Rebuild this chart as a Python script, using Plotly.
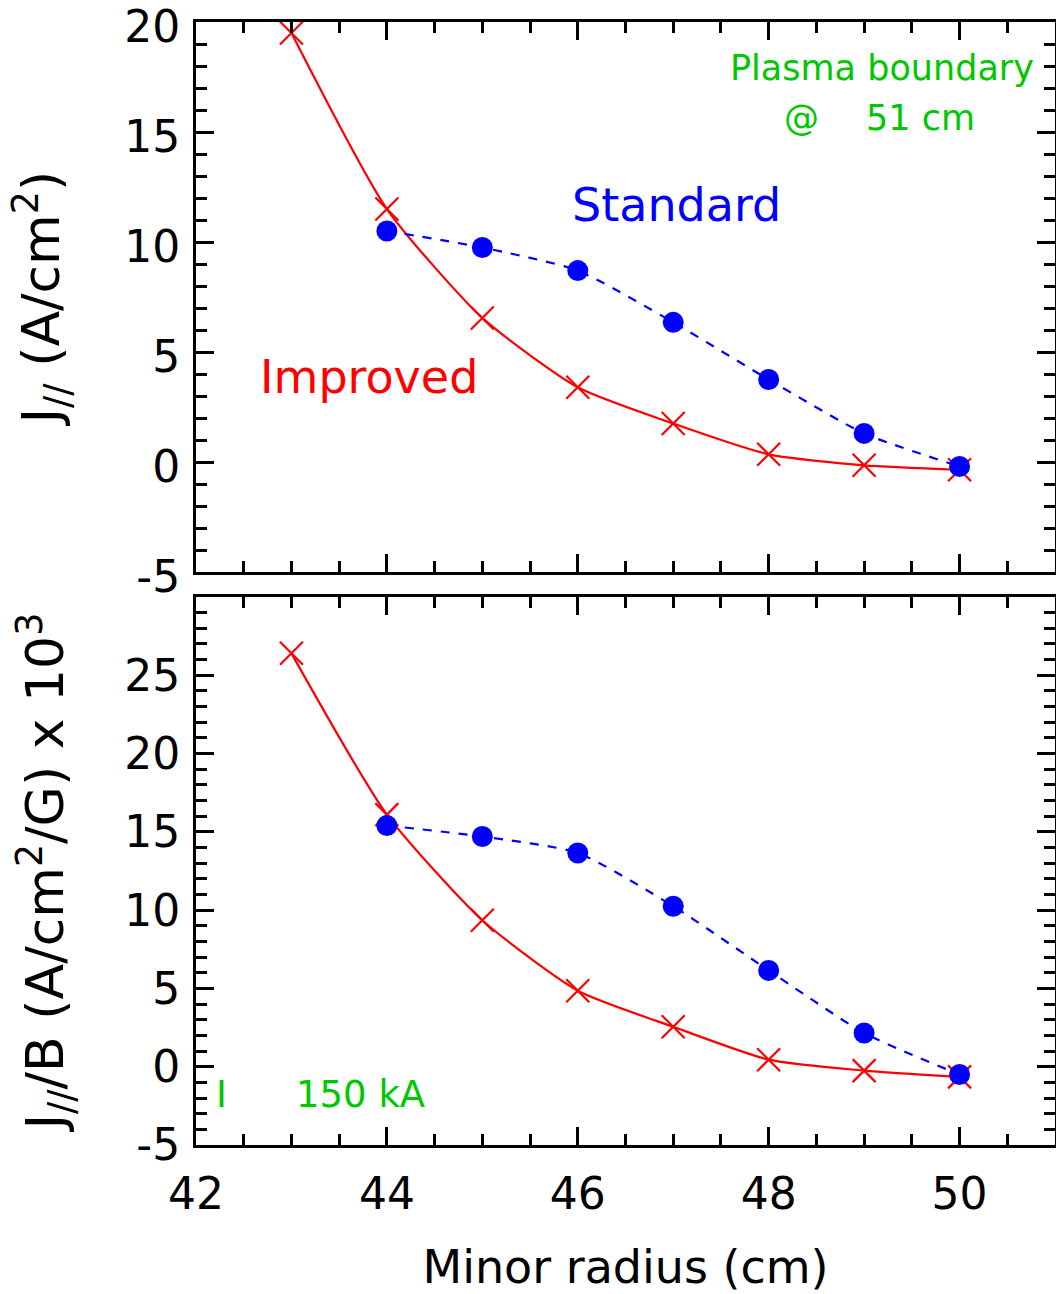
import plotly.graph_objects as go

radius_improved = [43, 44, 45, 46, 47, 48, 49, 50]
radius_standard = [44, 45, 46, 47, 48, 49, 50]

j_improved = [19.5, 11.5, 6.55, 3.4, 1.75, 0.35, -0.15, -0.35]
j_standard = [10.5, 9.75, 8.7, 6.35, 3.75, 1.3, -0.2]

jb_improved = [26.4, 16.1, 9.35, 4.85, 2.55, 0.45, -0.25, -0.65]
jb_standard = [15.4, 14.7, 13.65, 10.25, 6.15, 2.15, -0.5]

x_ticks = [42, 44, 46, 48, 50]
y1_ticks = [-5, 0, 5, 10, 15, 20]
y2_ticks = [-5, 0, 5, 10, 15, 20, 25]

RED = "#ff0000"
BLUE = "#0000ff"
GREEN = "#00c800"
FONT = "DejaVu Sans"

fig = go.Figure()

def add_pair(xa, ya, imp, std):
    fig.add_trace(go.Scatter(
        x=radius_improved, y=imp, mode="lines+markers", xaxis=xa, yaxis=ya,
        line=dict(color=RED, width=2.2, shape="spline", smoothing=0.6),
        marker=dict(symbol="x-thin", size=23, line=dict(color=RED, width=2.2)),
        showlegend=False, cliponaxis=False))
    fig.add_trace(go.Scatter(
        x=radius_standard, y=std, mode="lines+markers", xaxis=xa, yaxis=ya,
        line=dict(color=BLUE, width=2.2, dash="dash", shape="spline", smoothing=0.6),
        marker=dict(symbol="circle", size=21, color=BLUE),
        showlegend=False, cliponaxis=False))

add_pair("x", "y", j_improved, j_standard)
add_pair("x2", "y2", jb_improved, jb_standard)

axis_common = dict(
    showline=True, linecolor="black", linewidth=3, mirror="ticks",
    ticks="inside", ticklen=18, tickwidth=3, tickcolor="black",
    showgrid=False, zeroline=False, ticklabeloverflow="allow", automargin=False,
    tickfont=dict(family=FONT, size=44, color="black"),
    minor=dict(ticks="inside", ticklen=11, tickwidth=3, tickcolor="black", showgrid=False),
)

def fmt(v):
    return str(v).replace("−", "-")

fig.update_layout(
    width=1056, height=1294,
    margin=dict(l=196, r=1, t=22, b=149),
    paper_bgcolor="white", plot_bgcolor="white",
    font=dict(family=FONT, color="black"),
    xaxis=dict(axis_common, domain=[0, 1], range=[42, 51], anchor="y",
               tickvals=x_ticks, showticklabels=False,
               minor=dict(axis_common["minor"], dtick=0.5)),
    yaxis=dict(axis_common, domain=[0.5102, 1.0], range=[-5, 20], anchor="x",
               tickvals=y1_ticks, ticktext=[fmt(v) for v in y1_ticks],
               ticklabelstandoff=4, ticklabelshift=5,
               minor=dict(axis_common["minor"], dtick=1),
               title=dict(text="J<sub>//</sub> (A/cm<sup>2</sup>)",
                          font=dict(family=FONT, size=52), standoff=48)),
    xaxis2=dict(axis_common, domain=[0, 1], range=[42, 51], anchor="y2",
                tickvals=x_ticks, ticktext=[fmt(v) for v in x_ticks],
                ticklabelstandoff=8,
                minor=dict(axis_common["minor"], dtick=0.5),
                title=dict(text="Minor radius (cm)", font=dict(family=FONT, size=46), standoff=36)),
    yaxis2=dict(axis_common, domain=[0, 0.488], range=[-5, 30], anchor="x2",
                tickvals=y2_ticks, ticktext=[fmt(v) for v in y2_ticks],
                ticklabelstandoff=4,
                minor=dict(axis_common["minor"], dtick=1),
                title=dict(text="J<sub>//</sub>/B (A/cm<sup>2</sup>/G) x 10<sup>3</sup>",
                           font=dict(family=FONT, size=52), standoff=44)),
)

annots = [
    dict(x=49.19, y=17.9, xref="x", yref="y", text="Plasma boundary",
         font=dict(family=FONT, size=35, color=GREEN)),
    dict(x=48.34, y=15.65, xref="x", yref="y", text="@",
         font=dict(family=FONT, size=35, color=GREEN)),
    dict(x=49.59, y=15.65, xref="x", yref="y", text="51 cm",
         font=dict(family=FONT, size=35, color=GREEN)),
    dict(x=47.03, y=11.7, xref="x", yref="y", text="Standard",
         font=dict(family=FONT, size=46, color=BLUE)),
    dict(x=43.81, y=3.86, xref="x", yref="y", text="Improved",
         font=dict(family=FONT, size=46, color=RED)),
    dict(x=42.27, y=-1.8, xref="x2", yref="y2", text="I",
         font=dict(family=FONT, size=37, color=GREEN)),
    dict(x=43.72, y=-1.8, xref="x2", yref="y2", text="150 kA",
         font=dict(family=FONT, size=37, color=GREEN)),
]
for a in annots:
    a["showarrow"] = False
    fig.add_annotation(**a)

fig.write_html("out.html")
